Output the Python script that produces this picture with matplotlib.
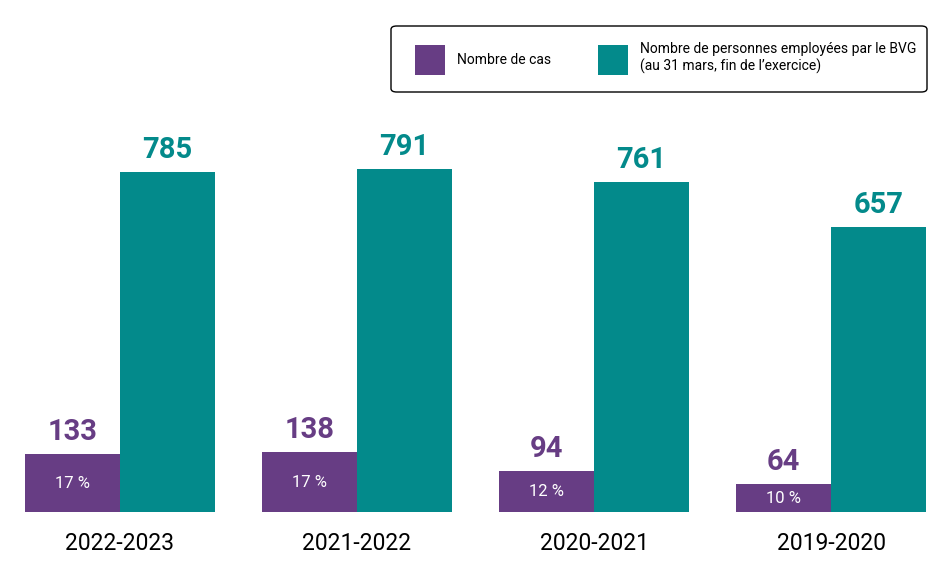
import matplotlib.pyplot as plt
from matplotlib.patches import FancyBboxPatch
import numpy as np

plt.rcParams['font.family'] = ['Roboto', 'DejaVu Sans']

years = ['2022-2023', '2021-2022', '2020-2021', '2019-2020']
cas = [133, 138, 94, 64]
employes = [785, 791, 761, 657]
pourcent = ['17 %', '17 %', '12 %', '10 %']

violet = '#673d84'
sarcelle = '#038a8b'

W, H = 950, 574
fig = plt.figure(figsize=(9.5, 5.74), dpi=100)
ax = fig.add_axes([25 / W, 1 - 512 / H, 901 / W, 412 / H])

x = np.arange(len(years))
w = 0.4
b1 = ax.bar(x - w / 2, cas, w, color=violet, label='Nombre de cas')
b2 = ax.bar(x + w / 2, employes, w, color=sarcelle,
            label='Nombre de personnes employées par le BVG\n(au 31 mars, fin de l\u2019exercice)')

ax.set_xlim(-0.4, 3.4)
ax.set_ylim(0, 412 / (340 / 785))
ax.axis('off')

for xi, v, p in zip(x, cas, pourcent):
    ax.annotate(str(v), (xi - w / 2, v), xytext=(0, 6), textcoords='offset points',
                ha='center', va='bottom', fontsize=21, fontweight='bold', color=violet)
    ax.text(xi - w / 2, v / 2, p, ha='center', va='center', fontsize=12, color='white')

for xi, v in zip(x, employes):
    ax.annotate(str(v), (xi + w / 2, v), xytext=(0, 6), textcoords='offset points',
                ha='center', va='bottom', fontsize=21, fontweight='bold', color=sarcelle)

for xi, y in zip(x, years):
    ax.annotate(y, (xi, 0), xytext=(0, -23), textcoords='offset points',
                ha='center', va='center', fontsize=16.5, color='black')

# legend items, box drawn separately
leg = fig.legend(handles=[b1, b2], loc='center left', ncol=2,
                 bbox_to_anchor=(415 / W, 1 - 58.5 / H),
                 fontsize=10, handlelength=2.15, handleheight=2.95,
                 handletextpad=0.85, columnspacing=3.4, borderpad=0,
                 borderaxespad=0, frameon=False)

box = FancyBboxPatch((391 / W, 1 - 92 / H), 536 / W, 66 / H,
                     boxstyle='round,pad=0,rounding_size=0.006',
                     transform=fig.transFigure, facecolor='white',
                     edgecolor='black', linewidth=1.0, zorder=0)
fig.patches.append(box)

fig.savefig('out.png', dpi=100)
